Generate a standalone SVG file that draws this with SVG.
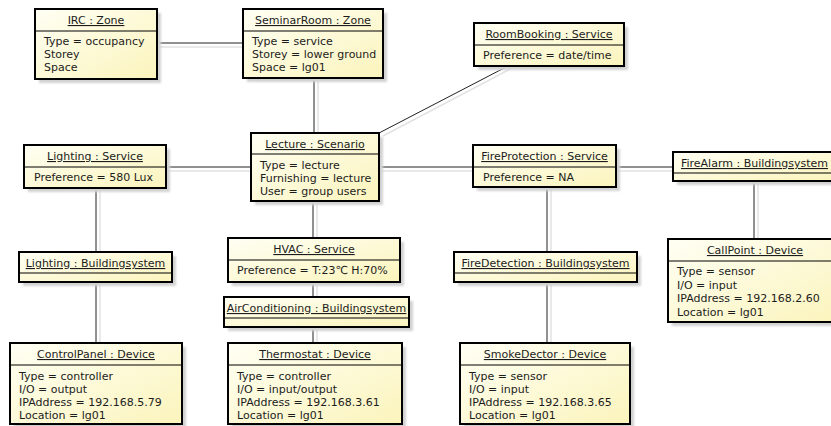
<svg xmlns="http://www.w3.org/2000/svg" width="831" height="426" viewBox="0 0 831 426">
<defs>
<linearGradient id="fill" x1="0" y1="0" x2="1" y2="1">
<stop offset="0" stop-color="#fffff4"/>
<stop offset="1" stop-color="#fbf4bc"/>
</linearGradient>
<filter id="blur" x="-10%" y="-10%" width="120%" height="130%">
<feGaussianBlur stdDeviation="1.2"/>
</filter>
</defs>
<style>
.box{fill:url(#fill);stroke:#000;stroke-width:2}
.sh{fill:#d2d2d2;filter:url(#blur)}
.div{stroke:#000;stroke-width:1}
text{font-family:"DejaVu Sans","Liberation Sans",sans-serif;font-size:11px;fill:#1c1c1c}
.title{text-anchor:middle;text-decoration:underline}
.c{stroke:#222;stroke-width:1;fill:none}
.cs{stroke:#e2e2e2;stroke-width:1.5;fill:none}
</style>
<rect width="831" height="426" fill="#fff"/>
<g id="connectors">
<g class="cs">
<line x1="157" y1="47" x2="243" y2="47"/>
<line x1="318" y1="78" x2="318" y2="133"/>
<line x1="512" y1="68" x2="383" y2="136"/>
<line x1="166" y1="171" x2="251" y2="171"/>
<line x1="379" y1="171" x2="473" y2="171"/>
<line x1="616" y1="171" x2="673" y2="171"/>
<line x1="100" y1="188" x2="100" y2="252"/>
<line x1="100" y1="282" x2="100" y2="343"/>
<line x1="317" y1="201" x2="317" y2="238"/>
<line x1="317" y1="282" x2="317" y2="297"/>
<line x1="317" y1="327" x2="317" y2="343"/>
<line x1="551" y1="187" x2="551" y2="252"/>
<line x1="551" y1="282" x2="551" y2="343"/>
<line x1="758" y1="181" x2="758" y2="239"/>
</g>
<g class="c">
<line x1="157" y1="43" x2="243" y2="43"/>
<line x1="314" y1="78" x2="314" y2="133"/>
<line x1="508" y1="66" x2="379" y2="133"/>
<line x1="166" y1="167" x2="251" y2="167"/>
<line x1="379" y1="167" x2="473" y2="167"/>
<line x1="616" y1="167" x2="673" y2="167"/>
<line x1="96" y1="188" x2="96" y2="252"/>
<line x1="96" y1="282" x2="96" y2="343"/>
<line x1="313" y1="201" x2="313" y2="238"/>
<line x1="313" y1="282" x2="313" y2="297"/>
<line x1="313" y1="327" x2="313" y2="343"/>
<line x1="547" y1="187" x2="547" y2="252"/>
<line x1="547" y1="282" x2="547" y2="343"/>
<line x1="754" y1="181" x2="754" y2="239"/>
</g>
</g>

<g id="irc" transform="translate(35,9)">
<rect class="sh" x="4" y="4" width="122" height="70"/>
<rect class="box" width="122" height="70"/>
<line class="div" x1="0" y1="22" x2="122" y2="22"/>
<text class="title" x="61" y="15">IRC : Zone</text>
<text x="9" y="36">Type = occupancy</text>
<text x="9" y="49">Storey</text>
<text x="9" y="62">Space</text>
</g>

<g id="seminarroom" transform="translate(243,9)">
<rect class="sh" x="4" y="4" width="140" height="69"/>
<rect class="box" width="140" height="69"/>
<line class="div" x1="0" y1="22" x2="140" y2="22"/>
<text class="title" x="70" y="15">SeminarRoom : Zone</text>
<text x="9" y="36">Type = service</text>
<text x="9" y="49">Storey = lower ground</text>
<text x="9" y="62">Space = lg01</text>
</g>

<g id="roombooking" transform="translate(474,23)">
<rect class="sh" x="4" y="4" width="150" height="43"/>
<rect class="box" width="150" height="43"/>
<line class="div" x1="0" y1="22" x2="150" y2="22"/>
<text class="title" x="75" y="15">RoomBooking : Service</text>
<text x="9" y="36">Preference = date/time</text>
</g>

<g id="lecture" transform="translate(251,133)">
<rect class="sh" x="4" y="4" width="128" height="68"/>
<rect class="box" width="128" height="68"/>
<line class="div" x1="0" y1="21" x2="128" y2="21"/>
<text class="title" x="64" y="15">Lecture : Scenario</text>
<text x="9" y="36">Type = lecture</text>
<text x="9" y="49">Furnishing = lecture</text>
<text x="9" y="62">User = group users</text>
</g>

<g id="lighting-service" transform="translate(24,145)">
<rect class="sh" x="4" y="4" width="142" height="43"/>
<rect class="box" width="142" height="43"/>
<line class="div" x1="0" y1="22" x2="142" y2="22"/>
<text class="title" x="71" y="15">Lighting : Service</text>
<text x="10" y="36">Preference = 580 Lux</text>
</g>

<g id="fireprotection" transform="translate(473,145)">
<rect class="sh" x="4" y="4" width="143" height="42"/>
<rect class="box" width="143" height="42"/>
<line class="div" x1="0" y1="22" x2="143" y2="22"/>
<text class="title" x="71.5" y="15">FireProtection : Service</text>
<text x="10" y="36">Preference = NA</text>
</g>

<g id="firealarm" transform="translate(673,152)">
<rect class="sh" x="4" y="4" width="163" height="29"/>
<rect class="box" width="163" height="29"/>
<line class="div" x1="0" y1="21" x2="163" y2="21"/>
<text class="title" x="81.5" y="15">FireAlarm : Buildingsystem</text>
</g>

<g id="lighting-bs" transform="translate(19,252)">
<rect class="sh" x="4" y="4" width="153" height="30"/>
<rect class="box" width="153" height="30"/>
<line class="div" x1="0" y1="21" x2="153" y2="21"/>
<text class="title" x="76.5" y="15">Lighting : Buildingsystem</text>
</g>

<g id="hvac" transform="translate(228,238)">
<rect class="sh" x="4" y="4" width="172" height="44"/>
<rect class="box" width="172" height="44"/>
<line class="div" x1="0" y1="22" x2="172" y2="22"/>
<text class="title" x="86" y="15">HVAC : Service</text>
<text x="9" y="36">Preference = T:23℃ H:70%</text>
</g>

<g id="firedetection" transform="translate(454,252)">
<rect class="sh" x="4" y="4" width="183" height="30"/>
<rect class="box" width="183" height="30"/>
<line class="div" x1="0" y1="21" x2="183" y2="21"/>
<text class="title" x="91.5" y="15">FireDetection : Buildingsystem</text>
</g>

<g id="callpoint" transform="translate(668,239)">
<rect class="sh" x="4" y="4" width="174" height="83"/>
<rect class="box" width="174" height="83"/>
<line class="div" x1="0" y1="22" x2="174" y2="22"/>
<text class="title" x="87" y="15">CallPoint : Device</text>
<text x="9" y="36">Type = sensor</text>
<text x="9" y="50">I/O = input</text>
<text x="9" y="63">IPAddress = 192.168.2.60</text>
<text x="9" y="77">Location = lg01</text>
</g>

<g id="airconditioning" transform="translate(224,297)">
<rect class="sh" x="4" y="4" width="185" height="30"/>
<rect class="box" width="185" height="30"/>
<line class="div" x1="0" y1="21" x2="185" y2="21"/>
<text class="title" x="92.5" y="15">AirConditioning : Buildingsystem</text>
</g>

<g id="controlpanel" transform="translate(10,343)">
<rect class="sh" x="4" y="4" width="172" height="81"/>
<rect class="box" width="172" height="81"/>
<line class="div" x1="0" y1="22" x2="172" y2="22"/>
<text class="title" x="86" y="15">ControlPanel : Device</text>
<text x="9" y="37">Type = controller</text>
<text x="9" y="50">I/O = output</text>
<text x="9" y="63">IPAddress = 192.168.5.79</text>
<text x="9" y="76">Location = lg01</text>
</g>

<g id="thermostat" transform="translate(228,343)">
<rect class="sh" x="4" y="4" width="174" height="81"/>
<rect class="box" width="174" height="81"/>
<line class="div" x1="0" y1="22" x2="174" y2="22"/>
<text class="title" x="87" y="15">Thermostat : Device</text>
<text x="9" y="37">Type = controller</text>
<text x="9" y="50">I/O = input/output</text>
<text x="9" y="63">IPAddress = 192.168.3.61</text>
<text x="9" y="76">Location = lg01</text>
</g>

<g id="smokedector" transform="translate(460,343)">
<rect class="sh" x="4" y="4" width="170" height="81"/>
<rect class="box" width="170" height="81"/>
<line class="div" x1="0" y1="22" x2="170" y2="22"/>
<text class="title" x="85" y="15">SmokeDector : Device</text>
<text x="9" y="37">Type = sensor</text>
<text x="9" y="50">I/O = input</text>
<text x="9" y="63">IPAddress = 192.168.3.65</text>
<text x="9" y="76">Location = lg01</text>
</g>
</svg>
